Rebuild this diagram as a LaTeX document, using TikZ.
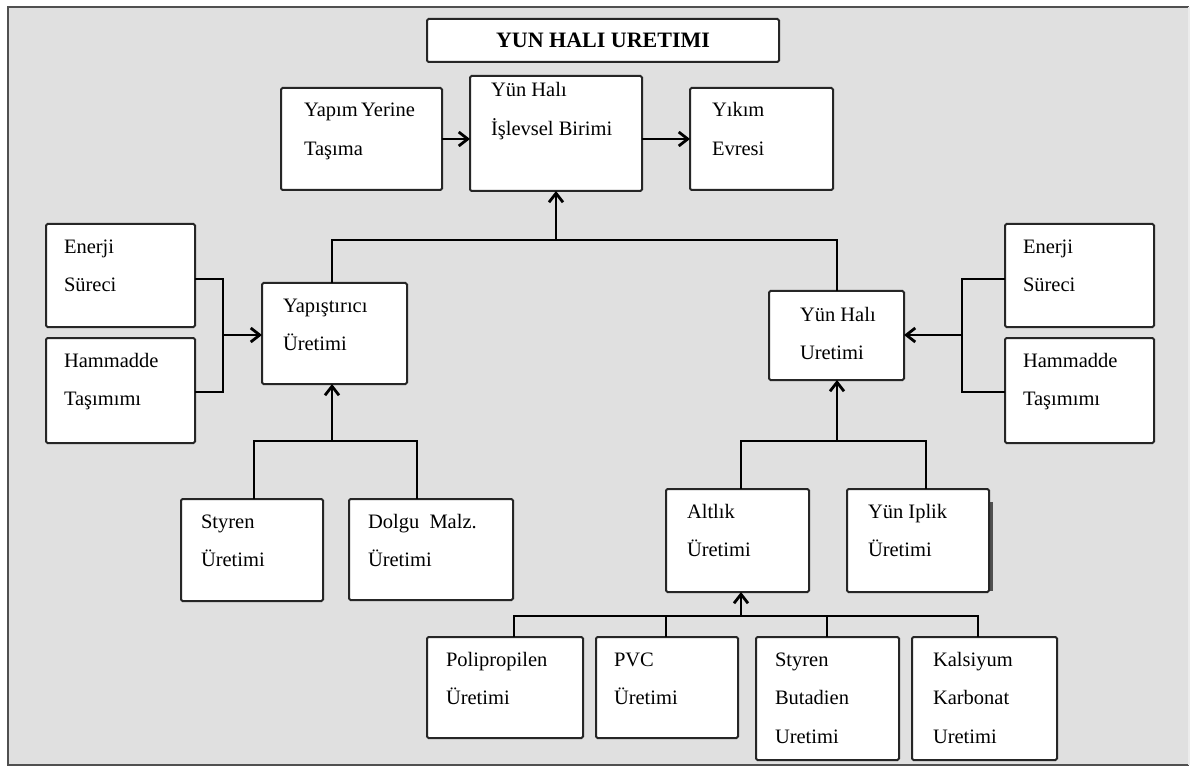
\documentclass[tikz,border=0pt]{standalone}
\usepackage{fontspec}
\setmainfont{Liberation Serif}
\usetikzlibrary{arrows.meta}
\definecolor{bggray}{HTML}{E0E0E0}
\definecolor{edgecol}{HTML}{262626}
\definecolor{framecol}{HTML}{505050}
\tikzset{
  boxst/.style={draw=edgecol, line width=2pt, fill=white, rounded corners=1.5pt,
    anchor=north west, inner sep=0pt, outer sep=0pt},
  txtst/.style={anchor=north west, inner sep=0pt, outer sep=0pt, align=left,
    font=\rmfamily\fontsize{20.5}{38.5}\selectfont},
  conn/.style={draw=black, line width=2.8pt, line join=miter},
  arr/.style={-{Straight Barb[length=9pt,width=14pt]}},
}
\newcommand\mkbox[8]{%
  \node[boxst, minimum width=#4pt, minimum height=#5pt] (#1) at (#2,#3) {};
  \node[txtst] (#1-t) at ([xshift=#6pt]#1.north west) {\rule{0pt}{#7pt}#8};}
\begin{document}
\begin{tikzpicture}[x=1pt,y=-1pt]
\useasboundingbox (0,0) rectangle (1191,767);
\fill[white] (0,0) rectangle (1191,767);
\fill[bggray] (8,7) rectangle (1189,765);
\draw[framecol, line width=2pt] (1189,7) -- (8,7) -- (8,765) -- (1189,765);
\draw[white!85!gray, line width=1.5pt] (1189,7) -- (1189,765);

\node[boxst, minimum width=352pt, minimum height=43pt,
  font=\fontsize{22}{26}\selectfont\bfseries] (title) at (427,19) {YUN HALI URETIMI};

\mkbox{tasima}{281}{88}{161}{102}{23}{29}{Yapım\,Yerine\\Taşıma}
\mkbox{birimi}{470}{76}{172}{115}{21}{21}{Yün Halı\\İşlevsel Birimi}
\mkbox{yikim}{690}{88}{143}{102}{22}{29}{Yıkım\\Evresi}
\mkbox{enerjiL}{46}{224}{149}{103}{18}{29}{Enerji\\Süreci}
\mkbox{hamL}{46}{338}{149}{105}{18}{29}{Hammadde\\Taşımımı}
\mkbox{yap}{262}{283}{145}{101}{21}{29}{Yapıştırıcı\\Üretimi}
\mkbox{yunUr}{769}{291}{135}{89}{31}{30}{Yün Halı\\Uretimi}
\mkbox{enerjiR}{1005}{224}{149}{103}{18}{29}{Enerji\\Süreci}
\mkbox{hamR}{1005}{338}{149}{105}{18}{29}{Hammadde\\Taşımımı}
\mkbox{styren}{181}{499}{142}{102}{20}{29}{Styren\\Üretimi}
\mkbox{dolgu}{349}{499}{164}{101}{19}{29}{Dolgu\ \ Malz.\\Üretimi}
\mkbox{altlik}{666}{489}{143}{103}{21}{29}{Altlık\\Üretimi}
\fill[edgecol!80!white] (988,502) rectangle (993,591);
\mkbox{yunip}{847}{489}{142}{103}{21}{29}{Yün Iplik\\Üretimi}
\mkbox{poli}{427}{637}{156}{101}{19}{29}{Polipropilen\\Üretimi}
\mkbox{pvc}{596}{637}{142}{101}{18}{29}{PVC\\Üretimi}
\mkbox{sbr}{756}{637}{143}{123}{19}{29}{Styren\\Butadien\\Uretimi}
\mkbox{kals}{912}{637}{145}{123}{21}{29}{Kalsiyum\\Karbonat\\Uretimi}

% top row
\draw[conn,arr] (tasima.east) -- (birimi.west |- tasima.east);
\draw[conn,arr] (birimi.east |- yikim.west) -- (yikim.west);
% top bus
\coordinate (tl) at (332,240);
\coordinate (tr) at (837,240);
\coordinate (jT) at (556,240);
\draw[conn] (yap.north -| tl) -- (tl) -- (tr) -- (yunUr.north -| tr);
\draw[conn,arr] (birimi.south |- jT) -- (birimi.south);
% left bracket
\coordinate (lA) at (223,279);
\coordinate (lB) at (223,392);
\coordinate (jL) at (223,335);
\draw[conn] (enerjiL.east |- lA) -- (lA) -- (lB) -- (hamL.east |- lB);
\draw[conn,arr] (jL) -- (yap.west |- jL);
% right bracket
\coordinate (rA) at (962,279);
\coordinate (rB) at (962,392);
\coordinate (jR) at (962,335);
\draw[conn] (enerjiR.west |- rA) -- (rA) -- (rB) -- (hamR.west |- rB);
\draw[conn,arr] (jR) -- (yunUr.east |- jR);
% lower left bus
\coordinate (lb1) at (254,441);
\coordinate (lb2) at (417,441);
\coordinate (lbm) at (332,441);
\draw[conn] (styren.north -| lb1) -- (lb1) -- (lb2) -- (dolgu.north -| lb2);
\draw[conn,arr] (lbm) -- (yap.south -| lbm);
% lower right bus
\coordinate (rb1) at (741,441);
\coordinate (rb2) at (926,441);
\coordinate (rbm) at (837,441);
\draw[conn] (altlik.north -| rb1) -- (rb1) -- (rb2) -- (yunip.north -| rb2);
\draw[conn,arr] (rbm) -- (yunUr.south -| rbm);
% bottom bus
\coordinate (bb1) at (514,616);
\coordinate (bb2) at (978,616);
\coordinate (bpv) at (666,616);
\coordinate (bsb) at (827,616);
\coordinate (bbm) at (741,616);
\draw[conn] (poli.north -| bb1) -- (bb1) -- (bb2) -- (kals.north -| bb2);
\draw[conn] (bpv) -- (pvc.north -| bpv);
\draw[conn] (bsb) -- (sbr.north -| bsb);
\draw[conn,arr] (bbm) -- (altlik.south -| bbm);
\end{tikzpicture}
\end{document}
